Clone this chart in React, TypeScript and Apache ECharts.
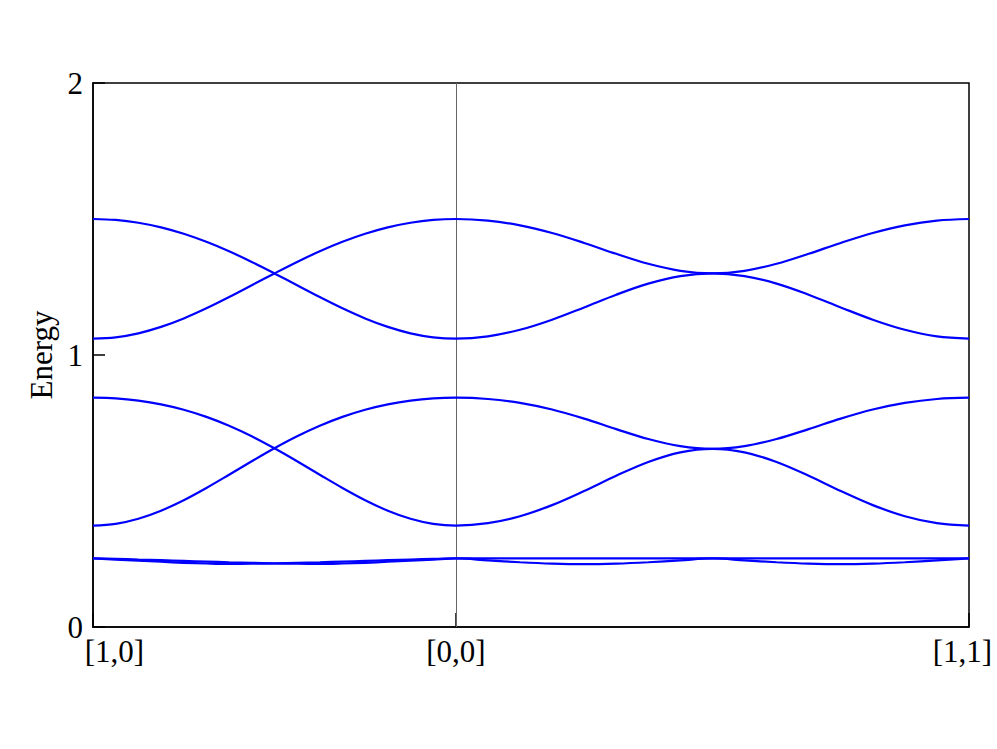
import React, { useEffect, useRef } from 'react';
import * as echarts from 'echarts';

// path coordinate along [1,0] -> [0,0] (length 1) -> [1,1] (length sqrt 2)
const kPath = [
  0, 0.0625, 0.125, 0.1875, 0.25, 0.3125, 0.375, 0.4375, 0.5, 0.5625, 0.625, 0.6875, 0.75, 0.8125, 0.875, 0.9375, 1,
  1.0884, 1.1768, 1.2652, 1.3536, 1.4419, 1.5303, 1.6187, 1.7071, 1.7955, 1.8839, 1.9723, 2.0607, 2.149, 2.2374, 2.3258, 2.4142,
];
const tickPositions = [0, 1, 2.4142];
const tickLabels = ['[1,0]', '[0,0]', '[1,1]'];

const band1 = [
  1.06, 1.065, 1.0797, 1.1033, 1.1344, 1.1716, 1.2129, 1.2563, 1.3, 1.3422, 1.3813, 1.4161, 1.4456, 1.4691, 1.4862, 1.4965, 1.5,
  1.4941, 1.4767, 1.4485, 1.412, 1.372, 1.3353, 1.3094, 1.3, 1.3094, 1.3353, 1.372, 1.412, 1.4485, 1.4767, 1.4941, 1.5,
];
const band2 = [
  1.5, 1.4965, 1.4862, 1.4691, 1.4456, 1.4161, 1.3813, 1.3422, 1.3, 1.2563, 1.2129, 1.1716, 1.1344, 1.1033, 1.0797, 1.065, 1.06,
  1.0684, 1.0927, 1.1298, 1.175, 1.2217, 1.2624, 1.2901, 1.3, 1.2901, 1.2624, 1.2217, 1.175, 1.1298, 1.0927, 1.0684, 1.06,
];
const band3 = [
  0.373, 0.3794, 0.3981, 0.4277, 0.4663, 0.5113, 0.5599, 0.6093, 0.657, 0.701, 0.7398, 0.7724, 0.7987, 0.8185, 0.8323, 0.8404, 0.843,
  0.8383, 0.824, 0.7995, 0.766, 0.7275, 0.691, 0.6647, 0.655, 0.6647, 0.691, 0.7275, 0.766, 0.7995, 0.824, 0.8383, 0.843,
];
const band4 = [
  0.843, 0.8404, 0.8323, 0.8185, 0.7987, 0.7724, 0.7398, 0.701, 0.657, 0.6093, 0.5599, 0.5113, 0.4663, 0.4277, 0.3981, 0.3794, 0.373,
  0.3817, 0.4073, 0.4481, 0.5, 0.556, 0.6067, 0.6422, 0.655, 0.6422, 0.6067, 0.556, 0.5, 0.4481, 0.4073, 0.3817, 0.373,
];
const band5 = [
  0.252, 0.248, 0.244, 0.24, 0.236, 0.2335, 0.232, 0.2325, 0.234, 0.236, 0.238, 0.2405, 0.243, 0.2455, 0.248, 0.2505, 0.252,
  0.252, 0.252, 0.252, 0.252, 0.252, 0.252, 0.252, 0.252, 0.252, 0.252, 0.252, 0.252, 0.252, 0.252, 0.252, 0.252,
];
const band6 = [
  0.252, 0.2505, 0.248, 0.2455, 0.243, 0.2405, 0.238, 0.236, 0.234, 0.2325, 0.232, 0.2335, 0.236, 0.24, 0.244, 0.248, 0.252,
  0.245, 0.238, 0.233, 0.231, 0.233, 0.238, 0.245, 0.252, 0.245, 0.238, 0.233, 0.231, 0.233, 0.238, 0.245, 0.252,
];

const FONT = 'Liberation Serif';
const FONT_SIZE = 31;

export default function App() {
  const ref = useRef<HTMLDivElement>(null);
  useEffect(() => {
    const chart = echarts.init(ref.current as HTMLDivElement, null, { renderer: 'svg' });
    const bands = [band1, band2, band3, band4, band5, band6];
    const labelFor = (v: number) => {
      let best = 0;
      for (let i = 0; i < tickPositions.length; i++) {
        if (Math.abs(tickPositions[i] - v) < Math.abs(tickPositions[best] - v)) best = i;
      }
      const key = best === 0 ? 'l' : best === tickPositions.length - 1 ? 'r' : 'c';
      return '{' + key + '|' + tickLabels[best] + '}';
    };
    const txt = { fontFamily: FONT, fontSize: FONT_SIZE, color: '#000' };
    chart.setOption({
      animation: false,
      backgroundColor: '#fff',
      grid: {
        left: 93, right: 28, top: 83, bottom: 122,
        show: true, borderColor: '#000', borderWidth: 1.5, backgroundColor: 'transparent',
      },
      xAxis: {
        type: 'value', min: 0, max: 2.4142,
        axisLine: { show: true, lineStyle: { color: '#000', width: 1.5 } },
        splitLine: { show: false },
        axisTick: { show: true, inside: true, length: 14, customValues: tickPositions, lineStyle: { color: '#000', width: 1.5 } },
        axisLabel: {
          customValues: tickPositions,
          formatter: (v: number) => labelFor(v),
          margin: 9,
          ...txt,
          rich: {
            l: { ...txt, padding: [0, 0, 0, 43] },
            c: { ...txt },
            r: { ...txt, padding: [0, 13, 0, 0] },
          },
        },
      },
      yAxis: {
        type: 'value', min: 0, max: 2, interval: 1,
        name: 'Energy', nameLocation: 'middle', nameGap: 32, nameRotate: 90,
        nameTextStyle: { ...txt },
        axisLine: { show: true, lineStyle: { color: '#000', width: 1.5 } },
        splitLine: { show: false },
        axisTick: { show: true, inside: true, length: 12, lineStyle: { color: '#000', width: 1.5 } },
        axisLabel: { margin: 10, ...txt },
      },
      series: bands.map((b, idx) => ({
        type: 'line',
        data: kPath.map((x, i) => [x, b[i]]),
        showSymbol: false,
        smooth: 0.35,
        lineStyle: { color: '#0000ff', width: 2.2 },
        z: 3,
        ...(idx === 0
          ? {
              markLine: {
                silent: true,
                symbol: 'none',
                label: { show: false },
                lineStyle: { color: '#666', width: 1, type: 'solid' },
                data: [{ xAxis: 1 }],
                z: 1,
              },
            }
          : {}),
      })),
    });
    return () => chart.dispose();
  }, []);
  return <div ref={ref} style={{ position: 'fixed', left: 0, top: 0, width: 997, height: 749 }} />;
}
